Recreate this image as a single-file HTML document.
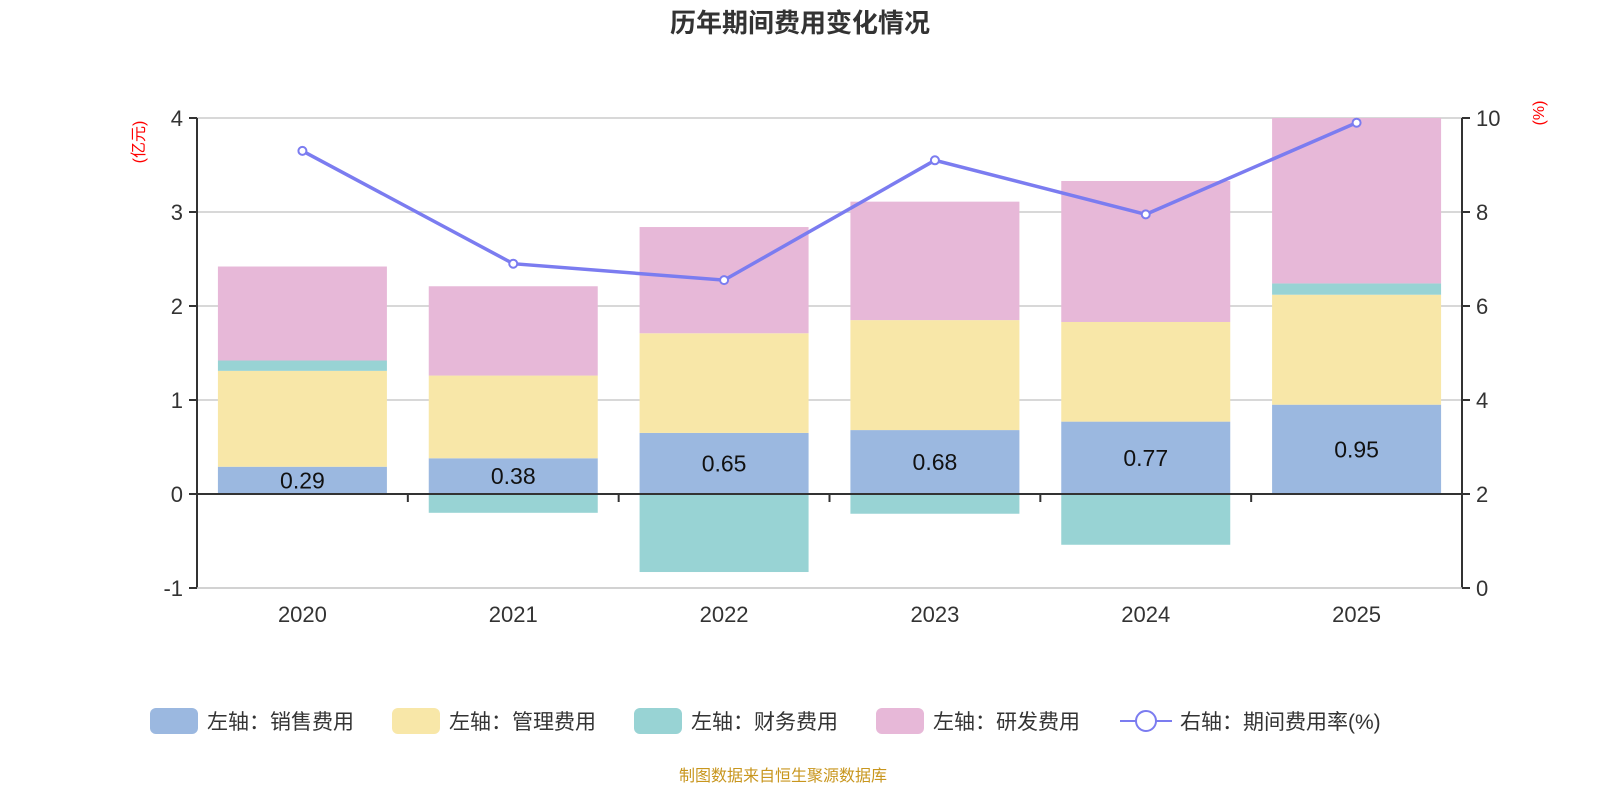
<!DOCTYPE html>
<html><head><meta charset="utf-8"><style>
body{margin:0;background:#fff;}
svg text{font-family:"Liberation Sans","Noto Sans CJK SC",sans-serif;}
</style></head><body>
<svg id="chart" width="1600" height="800" xmlns="http://www.w3.org/2000/svg">
<text x="800" y="32" text-anchor="middle" font-size="26" font-weight="bold" fill="#333">历年期间费用变化情况</text>
<text transform="translate(144,142) rotate(-90)" text-anchor="middle" font-size="16" fill="#f00">(亿元)</text>
<text transform="translate(1544,113) rotate(-90)" text-anchor="middle" font-size="16" fill="#f00">(%)</text>
<g id="grid"></g><g id="bars"></g><g id="axes"></g><g id="line"></g>
<g font-size="21" fill="#333">
<rect x="150" y="708" width="48" height="26" rx="6" fill="#9bb8e0"/><text x="207" y="729">左轴：销售费用</text>
<rect x="392" y="708" width="48" height="26" rx="6" fill="#f8e7a8"/><text x="449" y="729">左轴：管理费用</text>
<rect x="634" y="708" width="48" height="26" rx="6" fill="#98d3d4"/><text x="691" y="729">左轴：财务费用</text>
<rect x="876" y="708" width="48" height="26" rx="6" fill="#e7b8d8"/><text x="933" y="729">左轴：研发费用</text>
<line x1="1120" y1="721" x2="1172" y2="721" stroke="#7b7cf0" stroke-width="2"/><circle cx="1146" cy="721" r="10" fill="#fff" stroke="#7b7cf0" stroke-width="2"/><text x="1180" y="729">右轴：期间费用率(%)</text>
</g>
<text x="783" y="781" text-anchor="middle" font-size="16" fill="#c8961e">制图数据来自恒生聚源数据库</text>
</svg>
<script>
const categories=["2020","2021","2022","2023","2024","2025"];
const sales=[0.29,0.38,0.65,0.68,0.77,0.95];
const admin=[1.02,0.88,1.06,1.17,1.06,1.17];
const finance=[0.11,-0.20,-0.83,-0.21,-0.54,0.12];
const rd=[1.00,0.95,1.13,1.26,1.50,1.76];
const rate=[9.3,6.9,6.55,9.1,7.95,9.9];
const leftTicks=[-1,0,1,2,3,4];
const rightTicks=[0,2,4,6,8,10];
const NS="http://www.w3.org/2000/svg";
const X0=197,X1=1462,YT=118,YB=588;
const yL=v=>494-(v)*94;
const yR=v=>YB-(v/10)*(YB-YT);
const band=(X1-X0)/categories.length;
const xC=i=>X0+band*(i+0.5);
function mk(p,t,a){const e=document.createElementNS(NS,t);for(const k in a)e.setAttribute(k,a[k]);document.getElementById(p).appendChild(e);return e;}
leftTicks.forEach(t=>{if(t===0)return;const l=mk('grid','line',{x1:X0,x2:X1,y1:yL(t),y2:yL(t),stroke:'#ccc','stroke-width':1.5});

});
const cols={s:'#9bb8e0',a:'#f8e7a8',f:'#98d3d4',r:'#e7b8d8'};
const bw=169;
categories.forEach((c,i)=>{
 let pos=0,neg=0;const x=xC(i)-bw/2;
 [[sales,'s','bar-sales'],[admin,'a','bar-admin'],[finance,'f','bar-finance'],[rd,'r','bar-rd']].forEach(([arr,k,n])=>{
  const v=arr[i];let y0,y1;
  if(v>=0){y0=pos;y1=pos+v;pos=y1;}else{y0=neg;y1=neg+v;neg=y1;}
  const top=yL(Math.max(y0,y1)),bot=yL(Math.min(y0,y1));
  const r=mk('bars','rect',{x:x,y:top,width:bw,height:bot-top,fill:cols[k]});
  
  
 });
 const t=mk('bars','text',{x:xC(i),y:(yL(0)+yL(sales[i]))/2+8,'text-anchor':'middle','font-size':23,fill:'#111'});
 t.textContent=sales[i].toFixed(2);
 
 
});
// axes
let a=mk('axes','line',{x1:X0,x2:X0,y1:YT,y2:YB,stroke:'#333','stroke-width':2});

a=mk('axes','line',{x1:X1,x2:X1,y1:YT,y2:YB,stroke:'#333','stroke-width':2});

a=mk('axes','line',{x1:X0,x2:X1,y1:yL(0),y2:yL(0),stroke:'#333','stroke-width':2});

a=mk('axes','line',{x1:X0,x2:X1,y1:YB,y2:YB,stroke:'#ccc','stroke-width':1.5});

for(let i=0;i<=categories.length;i++){const l=mk('axes','line',{x1:X0+band*i,x2:X0+band*i,y1:yL(0),y2:yL(0)+8,stroke:'#333','stroke-width':2});
}
categories.forEach((c,i)=>{const t=mk('axes','text',{x:xC(i),y:622,'text-anchor':'middle','font-size':22,fill:'#333'});t.textContent=c;
});
leftTicks.forEach(v=>{const l=mk('axes','line',{x1:X0-8,x2:X0,y1:yL(v),y2:yL(v),stroke:'#333','stroke-width':2});

const t=mk('axes','text',{x:X0-14,y:yL(v)+8,'text-anchor':'end','font-size':22,fill:'#333'});t.textContent=v;
});
rightTicks.forEach(v=>{const l=mk('axes','line',{x1:X1,x2:X1+8,y1:yR(v),y2:yR(v),stroke:'#333','stroke-width':2});

const t=mk('axes','text',{x:X1+14,y:yR(v)+8,'text-anchor':'start','font-size':22,fill:'#333'});t.textContent=v;
});
const pts=rate.map((v,i)=>xC(i)+','+yR(v)).join(' ');
const pl=mk('line','polyline',{points:pts,fill:'none',stroke:'#7b7cf0','stroke-width':3.5});

rate.forEach((v,i)=>{const c=mk('line','circle',{cx:xC(i),cy:yR(v),r:4,fill:'#fff',stroke:'#7b7cf0','stroke-width':2});
});
</script>
</body></html>
